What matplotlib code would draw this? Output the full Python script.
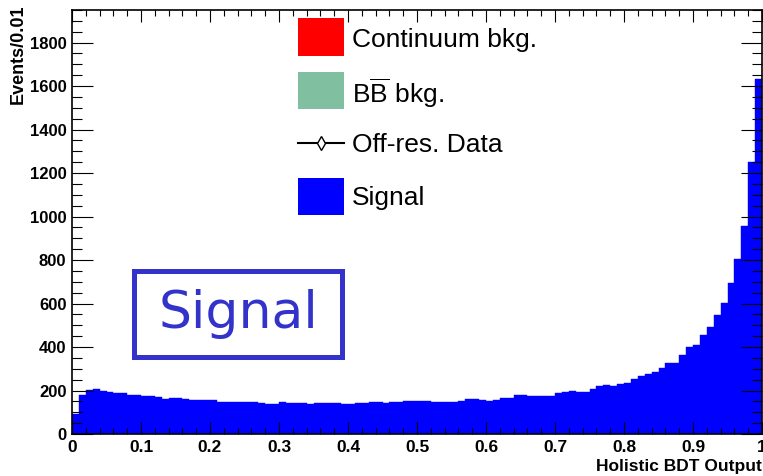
import numpy as np
import matplotlib
matplotlib.use("Agg")
import matplotlib.pyplot as plt
from matplotlib.patches import Rectangle
from matplotlib.lines import Line2D
from matplotlib.ticker import MultipleLocator

# ---- data ----
bin_edges = np.round(np.linspace(0.0, 1.0, 101), 4)
signal_counts = [
    90, 181, 202, 207, 199, 192, 187, 187, 181, 181,
    175, 175, 172, 161, 164, 164, 159, 155, 155, 155,
    155, 146, 146, 146, 149, 149, 149, 143, 136, 136,
    146, 144, 141, 141, 139, 143, 143, 144, 144, 136,
    136, 143, 143, 147, 147, 144, 147, 147, 150, 150,
    152, 152, 149, 149, 146, 147, 153, 161, 161, 156,
    153, 158, 166, 164, 178, 178, 176, 173, 173, 173,
    187, 193, 198, 195, 193, 205, 222, 225, 219, 230,
    233, 254, 265, 277, 285, 302, 325, 326, 363, 400,
    409, 457, 493, 546, 601, 693, 803, 957, 1250, 1632,
]
x_ticks = [0, 0.1, 0.2, 0.3, 0.4, 0.5, 0.6, 0.7, 0.8, 0.9, 1]
x_tick_labels = ["0", "0.1", "0.2", "0.3", "0.4", "0.5", "0.6", "0.7", "0.8", "0.9", "1"]
y_ticks = [0, 200, 400, 600, 800, 1000, 1200, 1400, 1600, 1800]
legend_labels = ["Continuum bkg.", r"B$\overline{\mathrm{B}}$ bkg.", "Off-res. Data", "Signal"]
legend_colors = ["#ff0000", "#80c0a0", None, "#0000ff"]

plt.rcParams["mathtext.fontset"] = "custom"
plt.rcParams["mathtext.rm"] = "Liberation Sans"
plt.rcParams["mathtext.it"] = "Liberation Sans:italic"
plt.rcParams["mathtext.bf"] = "Liberation Sans:bold"

W, H = 763, 476
fig = plt.figure(figsize=(W / 100, H / 100), dpi=100)

def fx(px):
    return px / W

def fy(py):
    return 1 - py / H

ax = fig.add_axes([fx(72), fy(434), fx(762) - fx(72), fy(10) - fy(434)])
ax.hist(bin_edges[:-1], bins=bin_edges, weights=signal_counts,
        histtype="stepfilled", color="#0000ff", edgecolor="#0000ff", linewidth=0.3)
ax.set_xlim(0, 1)
ax.set_ylim(0, 1950)

ax.set_xticks(x_ticks)
ax.set_xticklabels(x_tick_labels)
ax.set_yticks(y_ticks)
ax.xaxis.set_minor_locator(MultipleLocator(0.02))
ax.yaxis.set_minor_locator(MultipleLocator(50))
ax.tick_params(axis="x", which="major", direction="in", length=8.6, width=0.8,
               top=True, bottom=True, pad=4)
ax.tick_params(axis="x", which="minor", direction="in", length=4.3, width=0.8,
               top=True, bottom=True)
ax.tick_params(axis="y", which="major", direction="in", length=15, width=0.8,
               left=True, right=True, pad=4)
ax.tick_params(axis="y", which="minor", direction="in", length=7.2, width=0.8,
               left=True, right=True)
for lab in ax.get_xticklabels():
    lab.set_fontfamily("Liberation Sans")
    lab.set_fontweight("bold")
    lab.set_fontsize(12.5)
for lab in ax.get_yticklabels():
    lab.set_fontfamily("Liberation Sans")
    lab.set_fontweight("bold")
    lab.set_fontsize(12)
for s in ax.spines.values():
    s.set_linewidth(1.2)
    s.set_color("black")

fig.text(fx(762), fy(466), "Holistic BDT Output", ha="right", va="center",
         fontfamily="Liberation Sans", fontweight="bold", fontsize=12.5)
fig.text(fx(18), fy(5), "Events/0.01", ha="center", va="top", rotation=90,
         fontfamily="Liberation Sans", fontweight="bold", fontsize=13)

# legend (drawn manually, ROOT-like)
row_y = [37, 90, 143, 196]
for lab, col, yc in zip(legend_labels, legend_colors, row_y):
    if col is not None:
        fig.add_artist(Rectangle((fx(298), fy(yc + 18.5)), fx(344) - fx(298),
                                 fy(yc - 18.5) - fy(yc + 18.5),
                                 transform=fig.transFigure, facecolor=col,
                                 edgecolor="none"))
    else:
        fig.add_artist(Line2D([fx(298), fx(344)], [fy(yc), fy(yc)],
                              transform=fig.transFigure, color="black", lw=1.5))
        fig.add_artist(Line2D([fx(321)], [fy(yc)], transform=fig.transFigure,
                              marker="d", markersize=7, markerfacecolor="white",
                              markeredgecolor="black", markeredgewidth=1.0))
    fig.text(fx(352), fy(yc), lab, ha="left", va="center_baseline",
             fontfamily="Liberation Sans", fontsize=19)

# "Signal" box
fig.add_artist(Rectangle((fx(134.2), fy(356.8)), fx(341.8) - fx(134.2),
                         fy(270.8) - fy(356.8), transform=fig.transFigure,
                         facecolor="white", edgecolor="#3333cc", linewidth=3.6))
fig.text(fx(238), fy(314), "Signal", ha="center", va="center",
         fontfamily="DejaVu Sans", fontsize=37.5, color="#3333cc")

fig.savefig("out.png", dpi=100)
